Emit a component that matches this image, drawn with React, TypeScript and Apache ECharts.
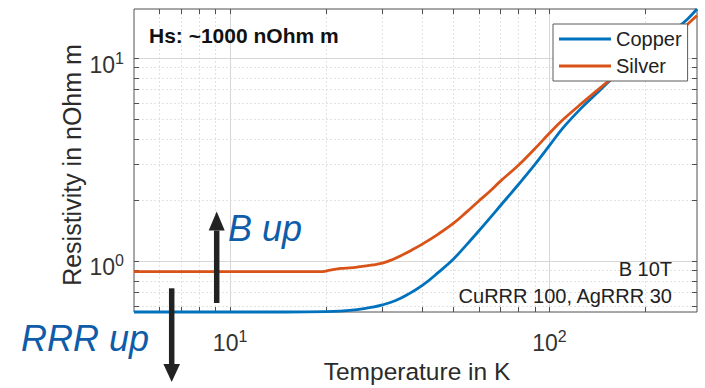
import React, { useEffect, useRef } from "react";
import * as echarts from "echarts";

const FONT = '"Liberation Sans", Arial, Helvetica, sans-serif';
const LABEL_FONT = "Liberation Sans";

// Axis limits (temperature in K, resistivity in nOhm m)
const T_MIN = 5;
const T_MAX = 290;
const RHO_MIN = 0.56;
const RHO_MAX = 17.45;

// Copper, RRR 100, B = 10 T
const copperT = [5, 10, 15, 20, 22, 25, 28, 30, 33, 36, 40, 45, 50, 55, 60, 65, 70, 80, 90, 100, 110, 125, 140, 155, 175, 200, 225, 250, 270, 290];
const copperRho = [0.56, 0.56, 0.56, 0.562, 0.565, 0.575, 0.592, 0.607, 0.638, 0.683, 0.757, 0.88, 1.02, 1.2, 1.4, 1.62, 1.86, 2.38, 2.98, 3.7, 4.5, 5.6, 6.65, 7.75, 9.1, 10.8, 12.4, 14.0, 15.5, 17.45];

// Silver, RRR 30, B = 10 T
const silverT = [5, 10, 15, 19.5, 20.5, 21.5, 23, 25, 28, 30, 32, 34, 37, 40, 45, 50, 55, 60, 65, 70, 80, 90, 100, 110, 125, 140, 155, 175, 200, 225, 250, 270, 290];
const silverRho = [0.885, 0.885, 0.885, 0.886, 0.9, 0.912, 0.921, 0.933, 0.955, 0.975, 1.01, 1.055, 1.13, 1.21, 1.36, 1.53, 1.74, 1.97, 2.2, 2.46, 2.96, 3.57, 4.26, 4.95, 5.9, 6.85, 7.8, 9.0, 10.4, 11.8, 13.1, 14.6, 16.2];

// Grid / tick positions (major decades plus minor 2..9 multiples)
const xGridValues = [6, 7, 8, 9, 10, 20, 30, 40, 50, 60, 70, 80, 90, 100, 200];
const yGridValues = [0.6, 0.7, 0.8, 0.9, 1, 2, 3, 4, 5, 6, 7, 8, 9, 10];

const BLUE = "#0072BD";
const ORANGE = "#D95319";
const TEXT = "#2b2b2b";
const FRAME = "#505050";
const NOTE_BLUE = "#0f5ca8";

function isDecade(v: number) {
  const l = Math.log10(v);
  return Math.abs(l - Math.round(l)) < 1e-6;
}

function decadeLabel(v: number) {
  if (!isDecade(v)) return "";
  return `{b|10}{s|${Math.round(Math.log10(v))}}`;
}

// "10" base with a raised exponent
const richLabel = {
  b: { fontSize: 23, lineHeight: 26, verticalAlign: "bottom", fontFamily: LABEL_FONT, color: "#333" },
  s: { fontSize: 16, lineHeight: 10, verticalAlign: "top", fontFamily: LABEL_FONT, color: "#333" },
};

function gridRenderer(dim: "x" | "y") {
  return (params: any, api: any) => {
    const cs = params.coordSys;
    const v = dim === "x" ? api.value(0) : api.value(1);
    const major = isDecade(v);
    const gridStyle = {
      stroke: major ? "#d6d6d6" : "#e2e2e2",
      lineWidth: 1,
      lineDash: major ? null : [2, 2],
    };
    const tickStyle = { stroke: FRAME, lineWidth: 1 };
    const tick = 5;
    if (dim === "x") {
      const px = Math.round(api.coord([v, RHO_MIN])[0]) + 0.5;
      const top = cs.y;
      const bottom = cs.y + cs.height;
      return {
        type: "group",
        children: [
          { type: "line", shape: { x1: px, y1: top, x2: px, y2: bottom }, style: gridStyle },
          { type: "line", shape: { x1: px, y1: bottom, x2: px, y2: bottom - tick }, style: tickStyle },
          { type: "line", shape: { x1: px, y1: top, x2: px, y2: top + tick }, style: tickStyle },
        ],
      };
    }
    const py = Math.round(api.coord([T_MIN, v])[1]) + 0.5;
    const left = cs.x;
    const right = cs.x + cs.width;
    return {
      type: "group",
      children: [
        { type: "line", shape: { x1: left, y1: py, x2: right, y2: py }, style: gridStyle },
        { type: "line", shape: { x1: left, y1: py, x2: left + tick, y2: py }, style: tickStyle },
        { type: "line", shape: { x1: right, y1: py, x2: right - tick, y2: py }, style: tickStyle },
      ],
    };
  };
}

function arrow(x: number, tail: number, tip: number, headLen: number, halfW: number) {
  const dir = tip < tail ? -1 : 1;
  const base = tip - dir * headLen;
  return [
    {
      type: "line",
      z: 20,
      shape: { x1: x, y1: tail, x2: x, y2: base },
      style: { stroke: "#222", lineWidth: 5.5 },
    },
    {
      type: "polygon",
      z: 20,
      shape: { points: [[x - halfW, base], [x + halfW, base], [x, tip]] },
      style: { fill: "#222" },
    },
  ];
}

export default function App() {
  const ref = useRef<HTMLDivElement>(null);

  useEffect(() => {
    document.body.style.margin = "0";
    if (!ref.current) return;
    const chart = echarts.init(ref.current, null, { renderer: "svg" });

    const axisLabelBase = {
      formatter: decadeLabel,
      rich: richLabel,
      fontSize: 23,
      fontFamily: LABEL_FONT,
      color: "#333",
      hideOverlap: false,
    };

    const option: any = {
      animation: false,
      backgroundColor: "#ffffff",
      grid: {
        left: 134,
        top: 9,
        right: 8,
        bottom: 76,
        show: true,
        backgroundColor: "#ffffff",
        borderColor: FRAME,
        borderWidth: 1,
      },
      xAxis: {
        type: "log",
        logBase: 10,
        min: T_MIN,
        max: T_MAX,
        axisLine: { show: false },
        axisTick: { show: false },
        splitLine: { show: false },
        minorTick: { show: false },
        axisLabel: { ...axisLabelBase, margin: 16 },
      },
      yAxis: {
        type: "log",
        logBase: 10,
        min: RHO_MIN,
        max: RHO_MAX,
        axisLine: { show: false },
        axisTick: { show: false },
        splitLine: { show: false },
        minorTick: { show: false },
        axisLabel: { ...axisLabelBase, margin: 10, padding: [10, 0, 0, 0] },
      },
      legend: {
        data: ["Copper", "Silver"],
        orient: "vertical",
        left: 553,
        top: 24,
        padding: [5, 6, 5, 6],
        itemWidth: 52,
        itemHeight: 3,
        itemGap: 7,
        icon: "rect",
        backgroundColor: "#ffffff",
        borderColor: "#5a5a5a",
        borderWidth: 1,
        borderRadius: 0,
        selectedMode: false,
        textStyle: { fontSize: 20, fontFamily: LABEL_FONT, color: "#222" },
      },
      series: [
        {
          type: "custom",
          name: "xgrid",
          silent: true,
          z: 1,
          data: xGridValues.map((v) => [v, RHO_MIN]),
          encode: { x: 0, y: 1 },
          renderItem: gridRenderer("x"),
        },
        {
          type: "custom",
          name: "ygrid",
          silent: true,
          z: 1,
          data: yGridValues.map((v) => [T_MIN, v]),
          encode: { x: 0, y: 1 },
          renderItem: gridRenderer("y"),
        },
        {
          type: "line",
          name: "Copper",
          data: copperT.map((t, i) => [t, copperRho[i]]),
          showSymbol: false,
          symbol: "none",
          smooth: 0.4,
          clip: false,
          z: 3,
          lineStyle: { color: BLUE, width: 2.8 },
          itemStyle: { color: BLUE },
          emphasis: { disabled: true },
        },
        {
          type: "line",
          name: "Silver",
          data: silverT.map((t, i) => [t, silverRho[i]]),
          showSymbol: false,
          symbol: "none",
          smooth: 0.4,
          clip: false,
          z: 3,
          lineStyle: { color: ORANGE, width: 2.8 },
          itemStyle: { color: ORANGE },
          emphasis: { disabled: true },
        },
      ],
      graphic: [
        {
          type: "text",
          x: 149,
          y: 35,
          z: 20,
          style: { text: "Hs: ~1000 nOhm m", fontSize: 21, fontWeight: "bold", fontFamily: FONT, fill: "#111", align: "left", verticalAlign: "middle" },
        },
        {
          type: "text",
          x: 672,
          y: 269,
          z: 20,
          style: { text: "B 10T", fontSize: 20, fontFamily: FONT, fill: "#222", align: "right", verticalAlign: "middle" },
        },
        {
          type: "text",
          x: 672,
          y: 296,
          z: 20,
          style: { text: "CuRRR 100, AgRRR 30", fontSize: 20, fontFamily: FONT, fill: "#222", align: "right", verticalAlign: "middle" },
        },
        {
          type: "text",
          x: 417,
          y: 371,
          z: 20,
          style: { text: "Temperature in K", fontSize: 24.5, fontFamily: FONT, fill: TEXT, align: "center", verticalAlign: "middle" },
        },
        {
          type: "text",
          x: 72,
          y: 165,
          z: 20,
          rotation: Math.PI / 2,
          style: { text: "Resistivity in nOhm m", fontSize: 25, fontFamily: FONT, fill: TEXT, align: "center", verticalAlign: "middle" },
        },
        {
          type: "text",
          x: 228,
          y: 228,
          z: 20,
          style: { text: "B up", fontSize: 36, fontStyle: "italic", fontFamily: FONT, fill: NOTE_BLUE, align: "left", verticalAlign: "middle" },
        },
        {
          type: "text",
          x: 21,
          y: 338,
          z: 20,
          style: { text: "RRR up", fontSize: 36, fontStyle: "italic", fontFamily: FONT, fill: NOTE_BLUE, align: "left", verticalAlign: "middle" },
        },
        ...arrow(216.7, 303, 211.5, 19, 8),
        ...arrow(171.7, 288.3, 382, 18, 8.3),
      ],
    };

    chart.setOption(option);
    return () => chart.dispose();
  }, []);

  return <div ref={ref} style={{ width: 705, height: 388 }} />;
}
